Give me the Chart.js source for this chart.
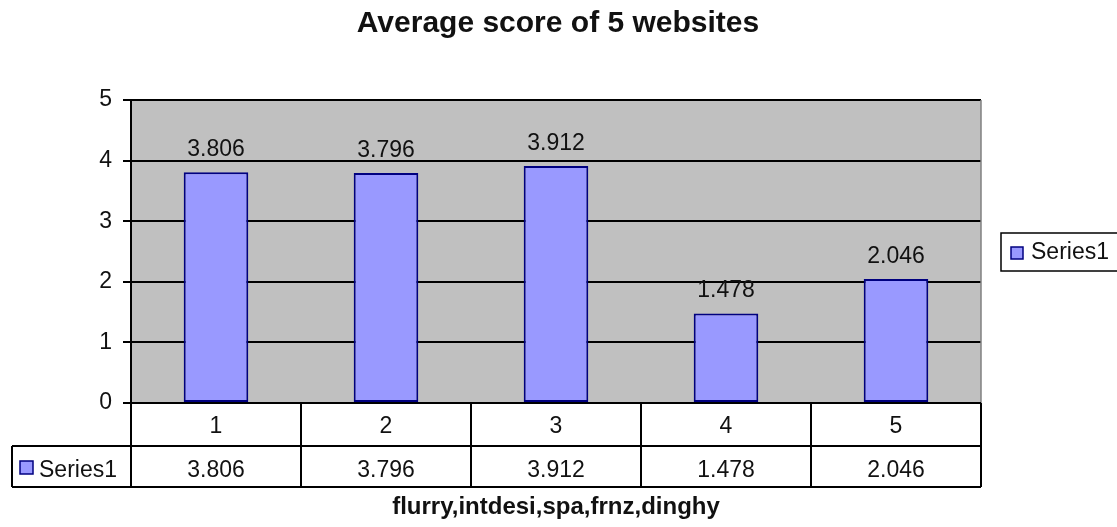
<!DOCTYPE html>
<html>
<head>
<meta charset="utf-8">
<script src="https://cdn.jsdelivr.net/npm/chart.js@4.4.1/dist/chart.umd.min.js"></script>
<style>
  html, body { margin: 0; padding: 0; background: #fff; }
  #wrap { width: 1117px; height: 527px; }
</style>
</head>
<body>
<div id="wrap"><canvas id="chart" width="1117" height="527"></canvas></div>
<script>
// Chart data
const categories = ['1', '2', '3', '4', '5'];
const seriesName = 'Series1';
const scores = [3.806, 3.796, 3.912, 1.478, 2.046];
const yTicks = [0, 1, 2, 3, 4, 5];
const chartTitle = 'Average score of 5 websites';
const axisTitle = 'flurry,intdesi,spa,frnz,dinghy';

const FONT = '"Liberation Sans", Arial, sans-serif';
const TEXT = '#111';
const BAR_FILL = '#9999ff';
const BAR_EDGE = '#000080';

// gray plot background, drawn before the grid
const plotBackground = {
  id: 'plotBackground',
  beforeDraw(chart) {
    const { ctx, chartArea: a } = chart;
    ctx.save();
    ctx.fillStyle = '#c0c0c0';
    ctx.fillRect(a.left, a.top, a.right - a.left, a.bottom - a.top);
    ctx.restore();
  }
};

// value labels, data table, titles and legend box
const decorations = {
  id: 'decorations',
  afterDraw(chart) {
    const { ctx, chartArea: a } = chart;
    const x = chart.scales.x;
    const y = chart.scales.y;
    const meta = chart.getDatasetMeta(0);
    ctx.save();

    // right edge of the plot
    ctx.strokeStyle = '#808080';
    ctx.lineWidth = 1.5;
    ctx.beginPath();
    ctx.moveTo(a.right, a.top);
    ctx.lineTo(a.right, a.bottom);
    ctx.stroke();

    // value above each bar
    ctx.fillStyle = TEXT;
    ctx.font = '23px ' + FONT;
    ctx.textAlign = 'center';
    ctx.textBaseline = 'alphabetic';
    meta.data.forEach((bar, i) => {
      ctx.fillText(scores[i].toFixed(3), bar.x, y.getPixelForValue(scores[i]) - 16);
    });

    // data table under the plot
    const row1 = a.bottom, row2 = a.bottom + 43, row3 = a.bottom + 84;
    const leftCell = 12;
    const half = (x.getPixelForValue(1) - x.getPixelForValue(0)) / 2;
    ctx.strokeStyle = '#000';
    ctx.lineWidth = 2;
    ctx.beginPath();
    ctx.moveTo(a.left, row1); ctx.lineTo(a.right, row1);
    ctx.moveTo(leftCell, row2); ctx.lineTo(a.right, row2);
    ctx.moveTo(leftCell, row3); ctx.lineTo(a.right, row3);
    ctx.moveTo(leftCell, row2); ctx.lineTo(leftCell, row3);
    categories.forEach((c, i) => {
      const cx = x.getPixelForValue(i);
      ctx.moveTo(cx - half, row1); ctx.lineTo(cx - half, row3);
    });
    ctx.moveTo(a.right, row1); ctx.lineTo(a.right, row3);
    ctx.stroke();

    categories.forEach((c, i) => {
      const cx = x.getPixelForValue(i);
      ctx.fillText(c, cx, row1 + 30);
      ctx.fillText(scores[i].toFixed(3), cx, row2 + 31);
    });

    // series key in the table
    ctx.fillStyle = BAR_FILL;
    ctx.fillRect(20, row2 + 15, 13, 13);
    ctx.strokeStyle = BAR_EDGE;
    ctx.lineWidth = 1.5;
    ctx.strokeRect(20, row2 + 15, 13, 13);
    ctx.fillStyle = TEXT;
    ctx.textAlign = 'left';
    ctx.fillText(seriesName, 39, row2 + 31);

    // legend box on the right
    ctx.strokeStyle = '#000';
    ctx.lineWidth = 1.5;
    ctx.strokeRect(1001, 233, 118, 38);
    ctx.fillStyle = BAR_FILL;
    ctx.fillRect(1011, 247, 12, 12);
    ctx.strokeStyle = BAR_EDGE;
    ctx.strokeRect(1011, 247, 12, 12);
    ctx.fillStyle = TEXT;
    ctx.fillText(seriesName, 1031, 259);

    // chart title and category axis title
    ctx.textAlign = 'center';
    ctx.font = 'bold 30px ' + FONT;
    ctx.fillText(chartTitle, 558, 32);
    ctx.font = 'bold 24px ' + FONT;
    ctx.fillText(axisTitle, (a.left + a.right) / 2, 514);

    ctx.restore();
  }
};

new Chart(document.getElementById('chart'), {
  type: 'bar',
  data: {
    labels: categories,
    datasets: [{
      label: seriesName,
      data: scores,
      backgroundColor: BAR_FILL,
      borderColor: BAR_EDGE,
      borderWidth: 2,
      borderSkipped: false,
      barPercentage: 0.38,
      categoryPercentage: 1
    }]
  },
  options: {
    responsive: false,
    animation: false,
    layout: { padding: { top: 100, right: 136, bottom: 124, left: 0 } },
    plugins: {
      legend: { display: false },
      title: { display: false },
      tooltip: { enabled: false }
    },
    scales: {
      x: { display: false },
      y: {
        min: yTicks[0],
        max: yTicks[yTicks.length - 1],
        afterBuildTicks: scale => { scale.ticks = yTicks.map(v => ({ value: v })); },
        afterFit: scale => { scale.width = 131; },
        grid: { color: '#000', lineWidth: 2, tickLength: 8, tickColor: '#000' },
        border: { color: '#000', width: 2 },
        ticks: {
          padding: 11,
          color: TEXT,
          font: { family: FONT, size: 23 }
        }
      }
    }
  },
  plugins: [plotBackground, decorations]
});
</script>
</body>
</html>
